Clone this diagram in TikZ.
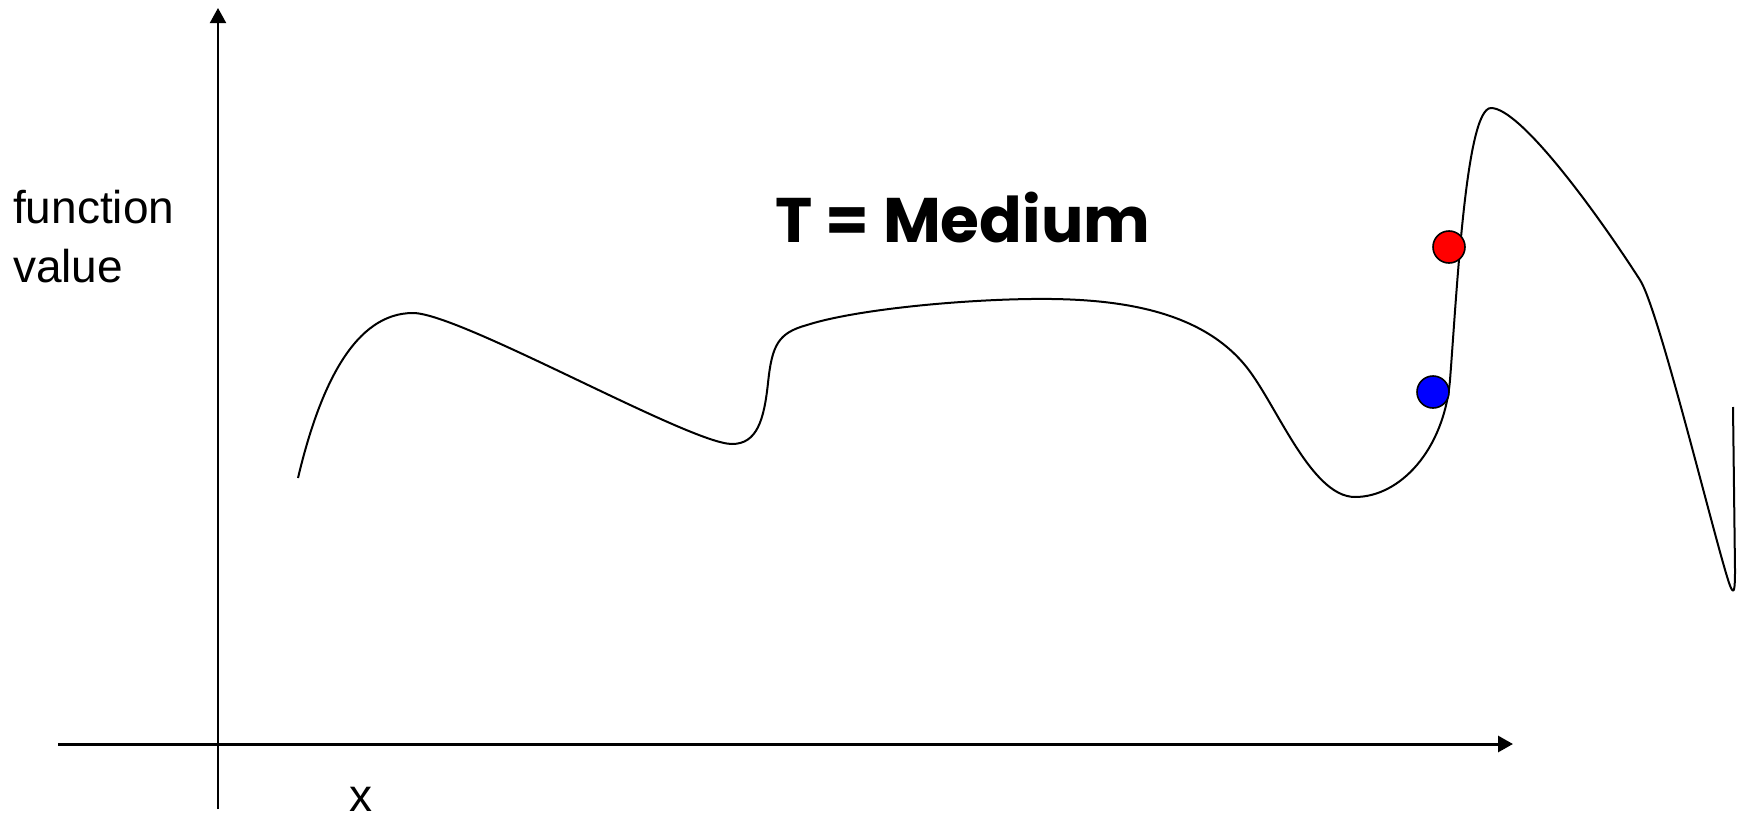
\documentclass[tikz,border=0pt]{standalone}
\usepackage{fontspec}
\setmainfont{Liberation Sans}
\newfontfamily\titlefont{Poppins}[UprightFont=* Bold]
\usetikzlibrary{arrows.meta}
\begin{document}
\begin{tikzpicture}[x=1pt,y=-1pt,
  axisline/.style={draw=black,-{Triangle[length=15pt,width=16pt]}},
  curveline/.style={draw=black,line width=2pt,line join=round},
  ball/.style={circle,draw=black,line width=1.6pt,minimum size=32pt,inner sep=0pt},
  lbl/.style={font=\fontsize{46}{59}\selectfont,inner sep=0pt,text=black}]
\useasboundingbox (0,0) rectangle (1738,819);
% axes
\coordinate (ybot) at (218,809);
\coordinate (ytop) at (218,8);
\coordinate (xleft) at (58,744);
\coordinate (xright) at (1513,744);
\draw[axisline,line width=2pt] (ybot) -- (ytop);
\draw[axisline,line width=3pt] (xleft) -- (xright);
% labels
\node[lbl,anchor=base west,align=left] (fv) at (13,282) {function\\value};
\node[lbl,anchor=base west] (xl) at (349,811) {x};
\node[anchor=base west,inner sep=0pt,font=\titlefont\fontsize{63}{70}\selectfont] (title) at (775,242) {T = Medium};
% curve
\draw[curveline] (298,478)
  .. controls (320,385) and (355,313) .. (413,313)
  .. controls (460,313) and (690,444) .. (732,444)
  .. controls (757,444) and (764,420) .. (768,383)
  .. controls (772,345) and (778,333) .. (807,325)
  .. controls (860,308) and (980,298) .. (1052,299)
  .. controls (1124,300) and (1200,312) .. (1244,364)
  .. controls (1275,400) and (1310,497) .. (1355,497)
  .. controls (1400,497) and (1444,450) .. (1450,380)
  .. controls (1457,290) and (1466,108) .. (1491,108)
  .. controls (1520,108) and (1595,210) .. (1640,280)
  .. controls (1660,311) and (1722,570) .. (1731,588)
  .. controls (1734,594) and (1735,590) .. (1735,570)
  -- (1733,407);
% balls
\node[ball,fill=red] (red) at (1449,247) {};
\node[ball,fill=blue] (blue) at (1433,392) {};
\end{tikzpicture}
\end{document}
